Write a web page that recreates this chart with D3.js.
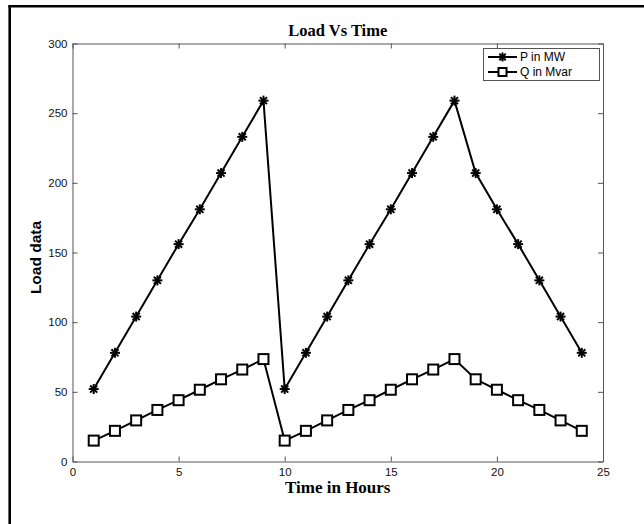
<!DOCTYPE html>
<html><head><meta charset="utf-8">
<script src="https://cdn.jsdelivr.net/npm/d3@7"></script>
<style>body{margin:0;background:#fff}svg{display:block}</style>
</head><body>
<script>
const hours = [1,2,3,4,5,6,7,8,9,10,11,12,13,14,15,16,17,18,19,20,21,22,23,24];
const pMW   = [52,78,104,130,156,181,207,233,259,52,78,104,130,156,181,207,233,259,207,181,156,130,104,78];
const qMvar = [15,22,29.5,37,44,51.5,59,66,73.5,15,22,29.5,37,44,51.5,59,66,73.5,59,51.5,44,37,29.5,22];
const xTicks = [0,5,10,15,20,25];
const yTicks = [0,50,100,150,200,250,300];
const seriesNames = ["P in MW","Q in Mvar"];
const titleText = "Load Vs Time";
const xLabel = "Time in Hours";
const yLabel = "Load data";

const W=644,H=524;
const svg=d3.select("body").append("svg").attr("width",W).attr("height",H);
// outer frame (left + top)
svg.append("line").attr("x1",9.7).attr("x2",9.7).attr("y1",5).attr("y2",H).attr("stroke","#000").attr("stroke-width",2.6);
svg.append("line").attr("x1",8.4).attr("x2",W).attr("y1",6.2).attr("y2",6.2).attr("stroke","#000").attr("stroke-width",2.4);

const L=72.5,R=603,T=43.5,B=461.5;
const x=d3.scaleLinear().domain([0,25]).range([L,R]);
const y=d3.scaleLinear().domain([0,300]).range([B,T]);
const axisColor="#555";
const sans="Liberation Sans";
const serif="Liberation Serif";

function styleAxis(g){
  g.selectAll("path,line").attr("stroke",axisColor).attr("stroke-width",1);
  g.selectAll("text").attr("fill","#111").attr("font-family",sans).attr("font-size","11.5px");
}
svg.append("g").attr("transform",`translate(0,${B})`)
  .call(d3.axisBottom(x).tickValues(xTicks).tickSize(-5).tickSizeOuter(0).tickPadding(6).tickFormat(d3.format("d"))).call(styleAxis);
svg.append("g").attr("transform",`translate(${L},0)`)
  .call(d3.axisLeft(y).tickValues(yTicks).tickSize(-5).tickSizeOuter(0).tickPadding(5).tickFormat(d3.format("d"))).call(styleAxis);
svg.append("g").attr("transform",`translate(0,${T})`)
  .call(d3.axisTop(x).tickValues(xTicks).tickSize(-5).tickSizeOuter(0).tickFormat("")).call(styleAxis);
svg.append("g").attr("transform",`translate(${R},0)`)
  .call(d3.axisRight(y).tickValues(yTicks).tickSize(-5).tickSizeOuter(0).tickFormat("")).call(styleAxis);
svg.selectAll(".domain").attr("fill","none");

// titles
svg.append("text").attr("x",(L+R)/2).attr("y",35.5).attr("text-anchor","middle")
  .attr("font-family",serif).attr("font-weight","bold").attr("font-size","16.5px").text(titleText);
svg.append("text").attr("x",(L+R)/2).attr("y",493).attr("text-anchor","middle")
  .attr("font-family",serif).attr("font-weight","bold").attr("font-size","17px").text(xLabel);
svg.append("text").attr("transform",`translate(40.5,${(T+B)/2+5}) rotate(-90)`).attr("text-anchor","middle")
  .attr("font-family",sans).attr("font-weight","bold").attr("font-size","15.5px").text(yLabel);

const line=d3.line();
const pPts=hours.map((h,i)=>[x(h),y(pMW[i])]);
const qPts=hours.map((h,i)=>[x(h),y(qMvar[i])]);
svg.append("path").attr("d",line(pPts)).attr("fill","none").attr("stroke","#000").attr("stroke-width",2);
svg.append("path").attr("d",line(qPts)).attr("fill","none").attr("stroke","#000").attr("stroke-width",2);

function star(g,cx,cy,r){
  for(let a=0;a<180;a+=45){
    const rad=a*Math.PI/180;
    g.append("line").attr("x1",cx-r*Math.cos(rad)).attr("y1",cy-r*Math.sin(rad))
      .attr("x2",cx+r*Math.cos(rad)).attr("y2",cy+r*Math.sin(rad))
      .attr("stroke","#000").attr("stroke-width",2);
  }
}
function square(g,cx,cy,s){
  g.append("rect").attr("x",cx-s/2).attr("y",cy-s/2).attr("width",s).attr("height",s)
    .attr("fill","#fff").attr("stroke","#000").attr("stroke-width",2);
}
const mg=svg.append("g");
pPts.forEach(p=>star(mg,p[0],p[1],5));
qPts.forEach(p=>square(mg,p[0],p[1],10));

// legend
const lg=svg.append("g");
lg.append("rect").attr("x",483.5).attr("y",48.5).attr("width",116).attr("height",32)
  .attr("fill","#fff").attr("stroke",axisColor).attr("stroke-width",1);
const rows=[57,72];
rows.forEach((ry,i)=>{
  lg.append("line").attr("x1",488).attr("x2",517).attr("y1",ry).attr("y2",ry).attr("stroke","#000").attr("stroke-width",2);
  if(i===0) star(lg,502.5,ry,4.5); else square(lg,502.5,ry,8);
  lg.append("text").attr("x",520).attr("y",ry+4.3).attr("font-family",sans).attr("font-size","12px").text(seriesNames[i]);
});
</script>
</body></html>
